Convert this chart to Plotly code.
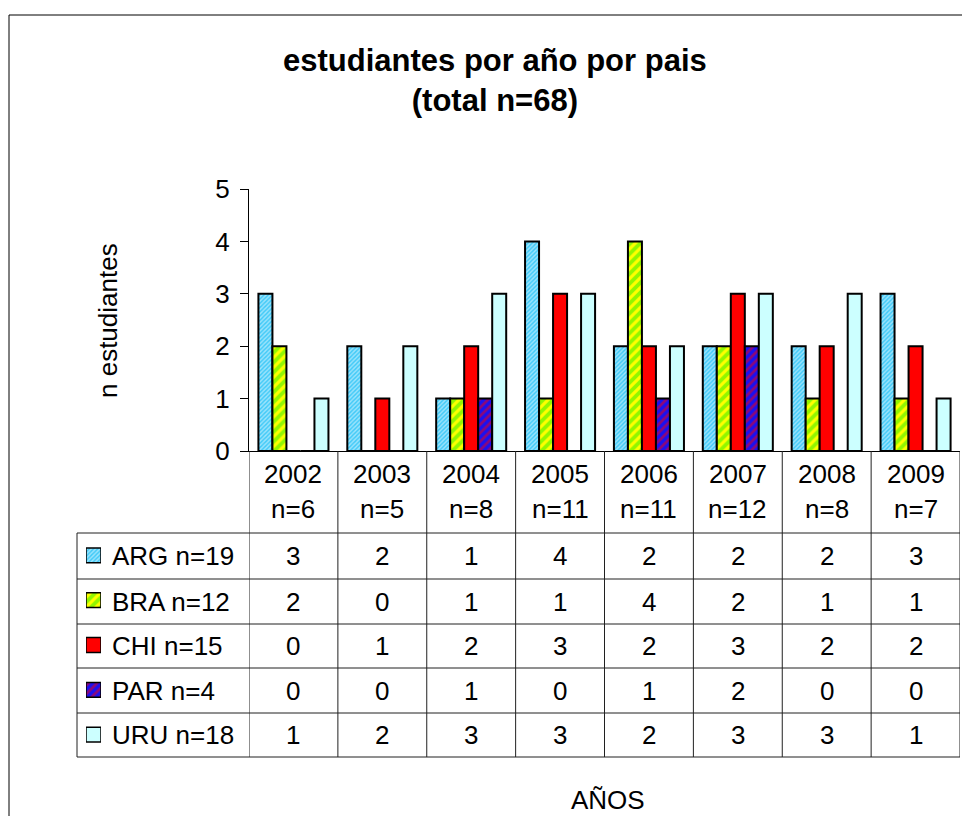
import plotly.graph_objects as go

# ---------------- data ----------------
years = ["2002", "2003", "2004", "2005", "2006", "2007", "2008", "2009"]
countries = ["ARG", "BRA", "CHI", "PAR", "URU"]
arg = [3, 2, 1, 4, 2, 2, 2, 3]
bra = [2, 0, 1, 1, 4, 2, 1, 1]
chi = [0, 1, 2, 3, 2, 3, 2, 2]
par = [0, 0, 1, 0, 1, 2, 0, 0]
uru = [1, 2, 3, 3, 2, 3, 3, 1]
series = [arg, bra, chi, par, uru]
y_ticks = [0, 1, 2, 3, 4, 5]

# ---------------- geometry helpers ----------------
W, H = 962, 816
FONT = "Liberation Sans, Arial, sans-serif"


def px(x):
    return x / W


def py(y):
    return 1 - y / H


styles = {
    "ARG": dict(color="#3CC8F8",
                pattern=dict(shape="/", bgcolor="#45CBF8", fgcolor="#FFFFFF", size=3, solidity=0.45)),
    "BRA": dict(color="#00FF00",
                pattern=dict(shape="/", bgcolor="#FFFF00", fgcolor="#22EE00", size=7, solidity=0.55)),
    "CHI": dict(color="#FF0000"),
    "PAR": dict(color="#0000FF",
                pattern=dict(shape="/", bgcolor="#1A10F0", fgcolor="#FF0000", size=6, solidity=0.45)),
    "URU": dict(color="#CCFFFF"),
}


def make_marker(name, lw):
    st = styles[name]
    m = dict(color=st["color"], line=dict(color="black", width=lw))
    if "pattern" in st:
        m["pattern"] = st["pattern"]
    return m


fig = go.Figure()
row_totals = [sum(s) for s in series]
col_totals = [sum(s[i] for s in series) for i in range(len(years))]
grand_total = sum(row_totals)

# main grouped bars
for name, vals in zip(countries, series):
    fig.add_trace(go.Bar(x=years, y=vals, name=name, marker=make_marker(name, 2),
                         showlegend=False, hoverinfo="x+y+name"))

# legend swatches of the data table (one small bar per series on its own axes)
for name in countries:
    fig.add_trace(go.Bar(x=[1], y=[name], orientation="h", width=0.33,
                         marker=make_marker(name, 1.5), xaxis="x2", yaxis="y2",
                         showlegend=False, hoverinfo="skip"))

# table geometry (pixels of the page)
ax_left, ax_right = 249, 960
y0_px, y5_px = 451, 189
row_lines = [533, 579, 624, 668, 713, 757]
table_left = 77
LC = "#202020"

shapes = []
# outer frame
shapes.append(dict(type="rect", xref="paper", yref="paper",
                   x0=px(9), x1=1.2, y0=-0.2, y1=py(15),
                   line=dict(color="black", width=1), fillcolor="rgba(0,0,0,0)", layer="below"))
# vertical table lines on category boundaries
for k in range(len(years) + 1):
    shapes.append(dict(type="line", xref="x", yref="paper",
                       x0=k - 0.5, x1=k - 0.5, y0=py(y0_px), y1=py(row_lines[-1]),
                       line=dict(color=LC, width=1)))
# legend column left border
shapes.append(dict(type="line", xref="paper", yref="paper",
                   x0=px(table_left), x1=px(table_left), y0=py(row_lines[0]), y1=py(row_lines[-1]),
                   line=dict(color=LC, width=1)))
# horizontal lines
for r in row_lines:
    shapes.append(dict(type="line", xref="paper", yref="paper",
                       x0=px(table_left), x1=px(ax_right), y0=py(r), y1=py(r),
                       line=dict(color=LC, width=1)))

annotations = []
TFS = 26


def ann(x, y, text, xref="paper", size=TFS, xanchor="center", **kw):
    d = dict(x=x, y=y, xref=xref, yref="paper", text=text, showarrow=False,
             xanchor=xanchor, yanchor="middle",
             font=dict(size=size, color="black", family=FONT))
    d.update(kw)
    annotations.append(d)


# header cells
for i, (yr, tot) in enumerate(zip(years, col_totals)):
    ann(i, py(474), yr, xref="x")
    ann(i, py(509), f"n={tot}", xref="x")
# value cells + row labels
for r, (name, vals, tot) in enumerate(zip(countries, series, row_totals)):
    yc = (row_lines[r] + row_lines[r + 1]) / 2
    ann(px(110), py(yc), f"{name} n={tot}", xanchor="left")
    for i, v in enumerate(vals):
        ann(i, py(yc), str(v), xref="x")
# title
ann(px(495), py(81), f"<b>estudiantes por año por pais<br>(total n={grand_total})</b>", size=31)
# y axis title
ann(px(108), py(321), "n estudiantes", textangle=-90)
# x axis title
ann(px(608), py(800), "AÑOS")

fig.update_layout(
    width=W, height=H,
    margin=dict(l=0, r=0, t=0, b=0, autoexpand=False),
    paper_bgcolor="white", plot_bgcolor="white",
    barmode="group", bargap=0.212, bargroupgap=0,
    font=dict(family=FONT, color="black", size=TFS),
    shapes=shapes, annotations=annotations,
    showlegend=False,
    xaxis=dict(domain=[px(ax_left), px(ax_right)], type="category",
               range=[-0.5, len(years) - 0.5], showticklabels=False, ticks="",
               showline=True, linecolor="black", linewidth=1, showgrid=False, zeroline=False,
               fixedrange=True),
    yaxis=dict(domain=[py(y0_px), py(y5_px)], range=[0, 5], tickvals=y_ticks,
               showline=True, linecolor="black", linewidth=1, ticks="outside", ticklen=8,
               tickcolor="black", tickfont=dict(size=TFS, family=FONT, color="black"),
               showgrid=False, zeroline=False, ticklabelstandoff=5, fixedrange=True),
    xaxis2=dict(domain=[px(86), px(101)], range=[0, 1], visible=False, fixedrange=True,
                anchor="y2"),
    yaxis2=dict(domain=[py(row_lines[-1]), py(row_lines[0])], type="category",
                categoryorder="array", categoryarray=countries,
                range=[len(countries) - 0.5, -0.5], visible=False, fixedrange=True,
                anchor="x2"),
)

fig.write_html("out.html", config={"displayModeBar": False},
               post_script="document.body.style.margin='0px';document.body.style.overflow='hidden';")
